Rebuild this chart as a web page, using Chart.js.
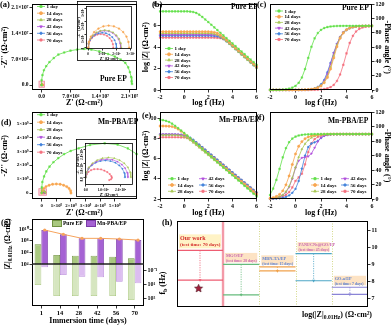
<!DOCTYPE html>
<html><head><meta charset="utf-8">
<script src="https://cdn.jsdelivr.net/npm/chart.js@4.4.1/dist/chart.umd.min.js"></script>
<style>
html,body{margin:0;padding:0;background:#fff}
body{width:392px;height:326px;position:relative;overflow:hidden;font-family:"Liberation Serif","Times New Roman",serif;font-weight:bold;color:#000}
canvas{position:absolute}
.t{position:absolute;white-space:nowrap;line-height:1;font-weight:bold}
sub{font-size:70%;vertical-align:-0.3em;line-height:0}
.sw{display:inline-block;width:8px;height:5px;border:0.8px solid;vertical-align:middle;margin-right:1px}
</style></head><body>
<script>
// ================= DATA =================
const logF = [-2,-1.75,-1.5,-1.25,-1,-0.75,-0.5,-0.25,0,0.25,0.5,0.75,1,1.25,1.5,1.75,2,2.25,2.5,2.75,3,3.25,3.5,3.75,4,4.25,4.5,4.75,5,5.25,5.5,5.75,6];
const dayNames = ['1 day','14 days','28 days','42 days','56 days','70 days'];

// (b) Pure EP log|Z|
const bPure1  = [7.35,7.35,7.35,7.35,7.35,7.35,7.35,7.35,7.35,7.35,7.33,7.29,7.2,7.04,6.83,6.59,6.35,6.1,5.85,5.6,5.35,5.1,4.85,4.6,4.35,4.1,3.85,3.6,3.35,3.1,2.85,2.6,2.35];
const bPure14 = [5.45,5.45,5.45,5.45,5.45,5.45,5.45,5.45,5.45,5.45,5.45,5.45,5.45,5.45,5.45,5.45,5.44,5.43,5.39,5.3,5.14,4.93,4.69,4.45,4.2,3.95,3.7,3.45,3.2,2.95,2.7,2.45,2.2];
const bPure28 = [5.3,5.3,5.3,5.3,5.3,5.3,5.3,5.3,5.3,5.3,5.3,5.3,5.3,5.3,5.3,5.3,5.29,5.28,5.24,5.15,4.99,4.78,4.54,4.3,4.05,3.8,3.55,3.3,3.05,2.8,2.55,2.3,2.05];
const bPure42 = [5.17,5.17,5.17,5.17,5.17,5.17,5.17,5.17,5.17,5.17,5.17,5.17,5.17,5.17,5.17,5.17,5.17,5.16,5.15,5.11,5.02,4.86,4.65,4.41,4.17,3.92,3.67,3.42,3.17,2.92,2.67,2.42,2.17];
const bPure56 = [5.07,5.07,5.07,5.07,5.07,5.07,5.07,5.07,5.07,5.07,5.07,5.07,5.07,5.07,5.07,5.07,5.07,5.06,5.05,5.01,4.92,4.76,4.55,4.31,4.07,3.82,3.57,3.32,3.07,2.82,2.57,2.32,2.07];
const bPure70 = [4.9,4.9,4.9,4.9,4.9,4.9,4.9,4.9,4.9,4.9,4.9,4.9,4.9,4.9,4.9,4.9,4.9,4.9,4.89,4.88,4.84,4.75,4.59,4.38,4.14,3.9,3.65,3.4,3.15,2.9,2.65,2.4,2.15];

// (c) Pure EP -phase
const cPure1  = [0.1,0.1,0.2,0.3,0.6,1.0,1.8,3.2,5.7,10.1,17.5,29.4,45,60.6,72.5,79.9,84.3,86.8,88.2,89.0,89.4,89.7,89.8,89.9,89.9,89.9,89.9,89.9,89.9,89.9,89.9,89.9,89.9];
const cPure14 = [0,0,0,0,0,0,0,0,0.1,0.1,0.2,0.3,0.6,1.0,1.8,3.2,5.7,10.1,17.5,29.4,45,60.6,72.5,79.9,84.3,86.8,88.2,89.0,89.4,89.7,89.8,89.9,89.9];
const cPure28 = [0,0,0,0,0,0,0,0,0.1,0.1,0.2,0.4,0.7,1.1,2.0,3.6,6.4,11.2,19.3,31.9,47.9,63.0,74.0,80.8,84.8,87.1,88.4,89.1,89.5,89.7,89.8,89.9,89.9];
const cPure42 = [0,0,0,0,0,0,0,0,0,0,0,0.1,0.3,0.7,1.5,3.2,6.5,12.5,22.5,36.5,51.5,64.5,74.5,81,84.8,87,88.3,89,89.4,89.7,89.8,89.9,89.9];
const cPure56 = [0,0,0,0,0,0,0,0,0,0,0,0.2,0.5,1.1,2.2,4.3,8.0,14.0,25,38,52,64.5,74,80.5,84,86.5,88,88.8,89.3,89.6,89.8,89.9,89.9];
const cPure70 = [0,0,0,0,0,0,0,0,0,0,0,0,0,0.1,0.2,0.4,0.7,1.3,2.3,4.0,7.2,12.6,21.7,35.3,51.3,66.0,76.0,82.0,85.6,87.6,88.7,89.3,89.6];

// (e) Mn-PBA/EP log|Z|
const eMn1  = [9.86,9.83,9.76,9.65,9.48,9.27,9.04,8.8,8.56,8.3,8.04,7.77,7.51,7.25,6.99,6.72,6.46,6.2,5.94,5.67,5.41,5.15,4.89,4.62,4.36,4.1,3.84,3.57,3.31,3.05,2.79,2.52,2.26];
const eMn14 = [9.25,9.25,9.24,9.23,9.19,9.1,8.94,8.73,8.49,8.25,8.0,7.75,7.5,7.25,7.0,6.75,6.5,6.25,6.0,5.75,5.5,5.25,5.0,4.75,4.5,4.25,4.0,3.75,3.5,3.25,3.0,2.75,2.5];
const eMn28 = [8.35,8.35,8.35,8.35,8.35,8.34,8.33,8.29,8.2,8.04,7.83,7.59,7.35,7.1,6.85,6.6,6.35,6.1,5.85,5.6,5.35,5.1,4.85,4.6,4.35,4.1,3.85,3.6,3.35,3.1,2.85,2.6,2.35];
const eMn42 = [8.43,8.43,8.43,8.43,8.43,8.42,8.41,8.37,8.28,8.12,7.91,7.67,7.43,7.18,6.93,6.68,6.43,6.18,5.93,5.68,5.43,5.18,4.93,4.68,4.43,4.18,3.93,3.68,3.43,3.18,2.93,2.68,2.43];
const eMn56 = [8.4,8.4,8.4,8.4,8.4,8.4,8.39,8.38,8.34,8.25,8.09,7.88,7.64,7.4,7.15,6.9,6.65,6.4,6.15,5.9,5.65,5.4,5.15,4.9,4.65,4.4,4.15,3.9,3.65,3.4,3.15,2.9,2.65];
const eMn70 = [8.13,8.13,8.13,8.13,8.13,8.13,8.13,8.12,8.11,8.07,7.98,7.82,7.61,7.37,7.13,6.88,6.63,6.38,6.13,5.88,5.63,5.38,5.13,4.88,4.63,4.38,4.13,3.88,3.63,3.38,3.13,2.88,2.63];

// (f) Mn-PBA/EP -phase
const fMn1  = [5.5,14.5,26.6,41.7,57.7,70.4,78.7,83.7,86.4,88.0,88.9,89.4,89.6,89.8,89.9,89.9,89.9,89.9,89.9,89.9,89.9,89.9,89.9,89.9,89.9,89.9,89.9,89.9,89.9,89.9,89.9,89.9,89.9];
const fMn14 = [1.1,1.9,3.6,6.4,11.3,19.6,32.0,47.9,62.5,73.0,79.5,83.5,86.0,87.6,88.5,89.1,89.5,89.7,89.8,89.9,89.9,89.9,89.9,89.9,89.9,89.9,89.9,89.9,89.9,89.9,89.9,89.9,89.9];
const fMn28 = [0.6,1.0,1.8,3.2,5.7,10.1,17.5,29.4,44,58,69,76.5,81.5,85,87.2,88.5,89.2,89.5,89.7,89.8,89.9,89.9,89.9,89.9,89.9,89.9,89.9,89.9,89.9,89.9,89.9,89.9,89.9];
const fMn42 = [0.5,0.9,1.6,2.9,5.2,9.3,16.5,28,43,53,57,58,59,63,71,79.5,85,87.5,88.7,89.3,89.6,89.8,89.9,89.9,89.9,89.9,89.9,89.9,89.9,89.9,89.9,89.9,89.9];
const fMn56 = [0.2,0.3,0.5,0.9,1.6,2.9,5.0,8.5,14.0,25,42,60,72,77,78.5,80.5,84.5,87.5,88.8,89.4,89.7,89.8,89.9,89.9,89.9,89.9,89.9,89.9,89.9,89.9,89.9,89.9,89.9];
const fMn70 = [0.3,0.6,1.1,2.0,3.5,5.8,9.5,16,25,30,35,48,65,77,83,86,87.8,88.8,89.3,89.6,89.8,89.9,89.9,89.9,89.9,89.9,89.9,89.9,89.9,89.9,89.9,89.9,89.9];

// (a) Pure EP Nyquist, 1 day (units 1e6 ohm cm2)
const aPure1x = [0,0,0.2,0.54,1.1,1.87,2.9,4.0,5.4,6.9,8.5,10.2,11.9,13.8,15.9,17.5,18.9,20.0,20.7,21.1,21.4,21.5,21.6];
const aPure1y = [0,1.3,2.7,4.0,5.1,6.2,7.3,8.25,8.8,9.3,9.6,9.8,9.6,9.1,8.4,7.7,6.9,6.0,4.8,3.5,2.2,1.0,0.3];
// (a) inset, 14-70 days (units 1e5 ohm cm2)
const aIns14x = [0,0.05,0.19,0.42,0.73,1.08,1.45,1.82,2.18,2.48,2.71,2.85,2.9];
const aIns14y = [0,0.44,0.85,1.2,1.47,1.64,1.7,1.64,1.47,1.2,0.85,0.44,0];
const aIns28x = [0,0.04,0.16,0.34,0.59,0.87,1.18,1.48,1.76,2.01,2.19,2.31,2.35];
const aIns28y = [0,0.35,0.68,0.95,1.17,1.3,1.35,1.3,1.17,0.95,0.68,0.35,0];
const aIns42x = [0,0.04,0.15,0.34,0.58,0.85,1.15,1.45,1.73,1.96,2.15,2.26,2.3];
const aIns42y = [0,0.34,0.65,0.92,1.13,1.26,1.3,1.26,1.13,0.92,0.65,0.34,0];
const aIns56x = [0,0.03,0.13,0.29,0.5,0.74,1.0,1.26,1.5,1.71,1.87,1.97,2.0];
const aIns56y = [0,0.3,0.58,0.81,1.0,1.11,1.15,1.11,1.0,0.81,0.58,0.3,0];
const aIns70x = [0,0.03,0.12,0.26,0.45,0.66,0.89,1.12,1.34,1.52,1.66,1.75,1.78];
const aIns70y = [0,0.27,0.53,0.74,0.91,1.01,1.05,1.01,0.91,0.74,0.53,0.27,0];

// (d) Mn-PBA/EP Nyquist, 1 & 14 days (units 1e9 ohm cm2)
const dMn1x = [0,0,0.04,0.16,0.31,0.53,0.8,1.13,1.53,1.98,2.53,3.31,4.31,5.2,5.9,6.5,7.0];
const dMn1y = [0,0.4,0.79,1.19,1.55,1.9,2.21,2.5,2.79,3.02,3.21,3.45,3.57,3.48,3.2,2.8,2.3];
const dMn14x = [0,0.03,0.13,0.29,0.5,0.74,1.0,1.26,1.5,1.71,1.87,1.97,2.0];
const dMn14y = [0,0.17,0.33,0.46,0.56,0.63,0.65,0.63,0.56,0.46,0.33,0.17,0];
// (d) inset, 28-70 days (units 1e8 ohm cm2)
const dIns28x = [0,0.04,0.17,0.38,0.65,0.96,1.3,1.64,1.95,2.22,2.43,2.56,2.6];
const dIns28y = [0,0.36,0.7,0.99,1.21,1.35,1.4,1.35,1.21,0.99,0.7,0.36,0];
const dIns42x = [0,0.04,0.16,0.35,0.61,0.9,1.22,1.53,1.82,2.08,2.27,2.39,2.43];
const dIns42y = [0,0.33,0.64,0.9,1.11,1.24,1.28,1.24,1.11,0.9,0.64,0.33,0];
const dIns56x = [0,0.04,0.15,0.33,0.57,0.84,1.13,1.42,1.7,1.93,2.11,2.22,2.26];
const dIns56y = [0,0.31,0.6,0.84,1.03,1.15,1.19,1.15,1.03,0.84,0.6,0.31,0];
const dIns70x = [0,0.05,0.15,0.3,0.48,0.68,0.88,1.07,1.24,1.38,1.47,1.5,1.45,1.35];
const dIns70y = [0,0.2,0.38,0.5,0.57,0.58,0.55,0.47,0.36,0.22,0.08,-0.05,-0.15,-0.2];

// (g) |Z|0.01Hz (log10) and breakpoint frequency fb (log10)
const gDays = ['1','14','28','42','56','70'];
const gZPure = [7.37,5.54,5.43,5.43,5.26,4.97];
const gZMn   = [9.83,9.09,8.4,8.4,8.29,8.11];
const gFbPure = [1.14,2.71,2.71,2.71,2.71,3.29];
const gFbMn   = [-1.38,-0.29,-0.05,0.05,0.67,0.9];
const Z_BASE = 4;       // |Z| axis baseline (10^4)
const FB_BASE = -1.86;  // fb value at the same baseline

// (h) comparison of log|Z|0.01Hz
const hWorks = ['Our work','MGO/EP','MBN-TA/EP','PANI/CNs@GO/EP','GO-a/EP'];
const hTimes = ['70 days','28 days','15 days','45 days','7 days'];
const hInit  = [9.82,9.0,8.86,9.63,7.67];
const hFinal = [8.09,7.23,8.62,8.05,7.25];
const hStar  = 7.6;

// tick labels
const tA = [0,7,14,21], tALab = ['0.0','7.0×10⁶','1.4×10⁷','2.1×10⁷'];
const tAi = [0,1,2,3], tAiLab = ['0','1×10⁵','2×10⁵','3×10⁵'];
const tD = [0,1,2,3,4,5], tDLab = ['0','1×10⁹','2×10⁹','3×10⁹','4×10⁹','5×10⁹'];
const tDi = [0,1,2], tDiLab = ['0.0','1.0×10⁸','2.0×10⁸'];
const tF = [-2,0,2,4,6];
const tZb = [0,2,4,6,8], tZe = [2,4,6,8,10];
const tPh = [0,20,40,60,80,100,120];
const tGZ = [4,6,8,10], tGZLab = ['10⁴','10⁶','10⁸','10¹⁰'];
const tGF = [-1,1,3], tGFLab = ['10⁻¹','10¹','10³'];
const tH = [7,8,9,10,11];

// ================= STYLE =================
const FONT = '"Liberation Serif","Times New Roman",serif';
const COL = ['#62e04a','#f8a650','#a7c653','#b04fdc','#3f80da','#f4707e'];
const PST = ['rect','circle','triangle','triangle','rectRot','rect'];
const PROT = [0,0,0,180,0,0];
const HCOL = ['#ee5d72','#66bb7c','#f0a24c','#4ea6c6','#8a84d6'];
const HBOX = ['#fff3c6','#fde3c4','#fde3c4','#fde3c4','#fde3c4'];
const HTXT = ['#d42a2a','#c865b0','#5a7fd0','#c865b0','#5a7fd0'];

Chart.defaults.font.family = FONT;
Chart.defaults.font.weight = 'bold';
Chart.defaults.color = '#000';
Chart.defaults.animation = false;
Chart.defaults.responsive = false;
Chart.defaults.maintainAspectRatio = false;
Chart.defaults.devicePixelRatio = 1;
Chart.defaults.events = [];
Chart.defaults.plugins.legend.display = false;
Chart.defaults.plugins.tooltip.enabled = false;

function cv(x, y, w, h) {
  const c = document.createElement('canvas');
  c.width = w; c.height = h;
  c.style.left = x + 'px'; c.style.top = y + 'px';
  c.style.width = w + 'px'; c.style.height = h + 'px';
  document.body.appendChild(c);
  return c;
}
function T(html, x, y, size, extra) {
  const d = document.createElement('div');
  d.className = 't'; d.innerHTML = html;
  d.style.left = x + 'px'; d.style.top = y + 'px'; d.style.fontSize = size + 'px';
  if (extra) d.style.cssText += extra;
  document.body.appendChild(d);
  return d;
}
function axis(o) {
  return {
    type: 'linear', position: o.pos, min: o.min, max: o.max, reverse: !!o.reverse, display: true,
    afterBuildTicks: s => { s.ticks = o.ticks.map(v => ({value: v})); },
    afterFit: s => {
      if (s.isHorizontal()) s.height = o.size; else s.width = o.size;
      s.paddingLeft = 0; s.paddingRight = 0; s.paddingTop = 0; s.paddingBottom = 0;
    },
    ticks: {
      autoSkip: false, minRotation: o.rot || 0, maxRotation: o.rot || 0, padding: o.tp ?? 1,
      font: {size: o.fs || 6, weight: 'bold'}, color: '#000',
      callback: (v) => { const k = o.ticks.indexOf(v); return o.labels ? (o.labels[k] ?? '') : String(v); }
    },
    grid: {display: true, drawOnChartArea: false, drawTicks: true, tickLength: o.tl ?? 2.5, color: '#000', lineWidth: 0.8},
    border: {display: false},
    title: o.title ? {display: true, text: o.title, font: {size: o.tfs || 8, weight: 'bold'}, color: '#000', padding: {top: 0, bottom: 0}} : {display: false}
  };
}
function series(xs, ys, k, extra) {
  return Object.assign({
    label: dayNames[k],
    data: xs.map((x, i) => ({x: x, y: ys[i]})),
    showLine: true, tension: 0,
    borderColor: COL[k], backgroundColor: COL[k],
    pointBackgroundColor: COL[k], pointBorderColor: COL[k],
    borderWidth: 0.8, pointRadius: 1.2, pointBorderWidth: 0.4,
    pointStyle: PST[k], rotation: PROT[k], clip: 1.5
  }, extra || {});
}

// ================= PLUGINS =================
const framePlugin = {
  id: 'frame',
  afterDatasetsDraw(chart, args, o) {
    const a = chart.chartArea, ctx = chart.ctx;
    ctx.save(); ctx.strokeStyle = '#000'; ctx.lineWidth = o.lw || 1;
    ctx.strokeRect(Math.round(a.left) + 0.5, Math.round(a.top) + 0.5, Math.round(a.right - a.left) - 1, Math.round(a.bottom - a.top) - 1);
    if (o.outer) ctx.strokeRect(0.5, 0.5, chart.width - 1, chart.height - 1);
    ctx.restore();
  }
};
const legendPlugin = {
  id: 'lgd',
  afterDraw(chart, args, o) {
    if (!o || !o.labels) return;
    const ctx = chart.ctx, ox = chart.canvas.offsetLeft, oy = chart.canvas.offsetTop;
    ctx.save();
    ctx.font = 'bold ' + o.size + 'px ' + FONT; ctx.textBaseline = 'middle'; ctx.textAlign = 'left';
    o.labels.forEach((lab, i) => {
      const ds = chart.data.datasets[i];
      const col = Math.floor(i / o.perCol), row = i % o.perCol;
      const x = o.x + col * (o.colW || 0) - ox, y = o.y + row * o.dy - oy;
      ctx.strokeStyle = ds.borderColor; ctx.fillStyle = ds.borderColor; ctx.lineWidth = 0.8;
      ctx.beginPath(); ctx.moveTo(x, y); ctx.lineTo(x + o.sw, y); ctx.stroke();
      Chart.helpers.drawPoint(ctx, {pointStyle: ds.pointStyle, rotation: ds.rotation || 0, radius: 1.5, borderWidth: 0.5}, x + o.sw / 2, y);
      ctx.fillStyle = '#000'; ctx.fillText(lab, x + o.sw + 1.5, y + 0.3);
    });
    ctx.restore();
  }
};
const zoomBoxPlugin = {
  id: 'zbox',
  beforeDatasetsDraw(chart, args, o) {
    if (!o || o.x0 === undefined) return;
    const xs = chart.scales.x, ys = chart.scales.y, ctx = chart.ctx;
    const x0 = xs.getPixelForValue(o.x0), x1 = xs.getPixelForValue(o.x1);
    const y0 = ys.getPixelForValue(o.y0), y1 = ys.getPixelForValue(o.y1);
    ctx.save(); ctx.fillStyle = 'rgba(244,150,170,0.45)'; ctx.strokeStyle = '#f08ba0'; ctx.lineWidth = 0.8;
    ctx.fillRect(x0, y1, x1 - x0, y0 - y1); ctx.strokeRect(x0, y1, x1 - x0, y0 - y1);
    ctx.restore();
  }
};
Chart.register(framePlugin, legendPlugin, zoomBoxPlugin);

function starCanvas(r, fill, stroke) {
  const c = document.createElement('canvas'); const s = Math.ceil(r * 2 + 2); c.width = c.height = s;
  const g = c.getContext('2d'); g.beginPath();
  for (let k = 0; k < 10; k++) {
    const ang = -Math.PI / 2 + k * Math.PI / 5, rr = (k % 2) ? r * 0.45 : r;
    g.lineTo(s / 2 + rr * Math.cos(ang), s / 2 + rr * Math.sin(ang));
  }
  g.closePath(); g.fillStyle = fill; g.fill(); g.strokeStyle = stroke; g.lineWidth = 0.6; g.stroke();
  return c;
}

// ================= (a) =================
const aSmall = [[aIns14x, aIns14y], [aIns28x, aIns28y], [aIns42x, aIns42y], [aIns56x, aIns56y], [aIns70x, aIns70y]];
new Chart(cv(0, 0, 141, 108), {
  type: 'scatter',
  data: {datasets: [series(aPure1x, aPure1y, 0)].concat(aSmall.map((p, k) => series(p[0].map(v => v / 10), p[1].map(v => v / 10), k + 1, {pointRadius: 0.8})))},
  options: {
    layout: {padding: {top: 3, right: 2, left: 0, bottom: 0}},
    scales: {
      x: axis({pos: 'bottom', min: -2.3, max: 22.7, ticks: tA, labels: tALab, size: 18, fs: 5.5, title: "Z' (Ω·cm²)"}),
      y: axis({pos: 'left', min: -1.33, max: 21.8, ticks: tA, labels: tALab, size: 32, fs: 5.5, title: "-Z'' (Ω·cm²)"})
    },
    plugins: {
      zbox: {x0: -0.63, x1: 0.7, y0: -0.6, y1: 1.06},
      lgd: {labels: dayNames, x: 37, y: 6.5, dy: 6.7, perCol: 6, sw: 8, size: 5}
    }
  }
});
// inset (a)
new Chart(cv(77, 1, 60, 60), {
  type: 'scatter',
  data: {datasets: [series([], [], 0)].concat(aSmall.map((p, k) => series(p[0], p[1], k + 1, {pointRadius: 0.9, borderWidth: 0.6})))},
  options: {
    layout: {padding: {top: 5, right: 5, left: 0, bottom: 0}},
    scales: {
      x: axis({pos: 'bottom', min: -0.15, max: 3.1, ticks: tAi, labels: tAiLab, size: 12, fs: 3.5, tfs: 4, tl: 1.5, title: "Z' (Ω·cm²)"}),
      y: axis({pos: 'left', min: -0.1, max: 3.2, ticks: tAi, labels: tAiLab, size: 9, fs: 3.5, tfs: 4, tl: 1.5, rot: 90, title: "-Z'' (Ω·cm²)"})
    },
    plugins: {frame: {lw: 0.8, outer: true}}
  }
});

// ================= (b) =================
new Chart(cv(141, 0, 120, 108), {
  type: 'scatter',
  data: {datasets: [bPure1, bPure14, bPure28, bPure42, bPure56, bPure70].map((a, k) => series(logF, a, k))},
  options: {
    layout: {padding: {top: 3, right: 3, left: 0, bottom: 0}},
    scales: {
      x: axis({pos: 'bottom', min: -2, max: 6, ticks: tF, size: 18, title: 'log f (Hz)'}),
      y: axis({pos: 'left', min: 0, max: 8, ticks: tZb, size: 19, title: 'log |Z| (Ω·cm²)'})
    },
    plugins: {lgd: {labels: dayNames, x: 165, y: 48.5, dy: 5.8, perCol: 6, sw: 8, size: 5}}
  }
});
// ================= (c) =================
new Chart(cv(261, 0, 131, 108), {
  type: 'scatter',
  data: {datasets: [cPure1, cPure14, cPure28, cPure42, cPure56, cPure70].map((a, k) => series(logF, a, k))},
  options: {
    layout: {padding: {top: 3, right: 0, left: 9, bottom: 0}},
    scales: {
      x: axis({pos: 'bottom', min: -2, max: 6, ticks: tF, size: 18, title: 'log f (Hz)'}),
      y: axis({pos: 'right', min: 0, max: 120, ticks: tPh, size: 20, title: '-Phase angle (°)'})
    },
    plugins: {lgd: {labels: dayNames, x: 275, y: 11, dy: 5.7, perCol: 6, sw: 8, size: 5}}
  }
});

// ================= (d) =================
const dSmall = [[dIns28x, dIns28y], [dIns42x, dIns42y], [dIns56x, dIns56y], [dIns70x, dIns70y]];
new Chart(cv(0, 108, 141, 110), {
  type: 'scatter',
  data: {datasets: [series(dMn1x, dMn1y, 0), series(dMn14x, dMn14y, 1)].concat(dSmall.map((p, k) => series(p[0].map(v => v / 10), p[1].map(v => v / 10), k + 2, {pointRadius: 0.8})))},
  options: {
    layout: {padding: {top: 4, right: 2, left: 0, bottom: 0}},
    scales: {
      x: axis({pos: 'bottom', min: -0.67, max: 6.5, ticks: tD, labels: tDLab, size: 19, fs: 4.8, title: "Z' (Ω·cm²)"}),
      y: axis({pos: 'left', min: -0.43, max: 5.79, ticks: tD, labels: tDLab, size: 32, fs: 5, title: "-Z'' (Ω·cm²)"})
    },
    plugins: {
      zbox: {x0: -0.2, x1: 0.33, y0: -0.16, y1: 0.31},
      lgd: {labels: dayNames, x: 37, y: 114.7, dy: 7.5, perCol: 6, sw: 8, size: 5}
    }
  }
});
// inset (d)
new Chart(cv(76, 139, 61, 58), {
  type: 'scatter',
  data: {datasets: [series([], [], 0), series([], [], 1)].concat(dSmall.map((p, k) => series(p[0], p[1], k + 2, {pointRadius: 0.9, borderWidth: 0.6})))},
  options: {
    layout: {padding: {top: 4, right: 3, left: 0, bottom: 0}},
    scales: {
      x: axis({pos: 'bottom', min: -0.05, max: 2.7, ticks: tDi, labels: tDiLab, size: 12, fs: 3.5, tfs: 4, tl: 1.5, title: "Z' (Ω·cm²)"}),
      y: axis({pos: 'left', min: -0.55, max: 2.4, ticks: tDi, labels: tDiLab, size: 9, fs: 3.5, tfs: 4, tl: 1.5, rot: 90, title: "-Z'' (Ω·cm²)"})
    },
    plugins: {frame: {lw: 0.8, outer: true}}
  }
});

// ================= (e) =================
new Chart(cv(141, 108, 120, 110), {
  type: 'scatter',
  data: {datasets: [eMn1, eMn14, eMn28, eMn42, eMn56, eMn70].map((a, k) => series(logF, a, k))},
  options: {
    layout: {padding: {top: 4, right: 3, left: 0, bottom: 0}},
    scales: {
      x: axis({pos: 'bottom', min: -2, max: 6, ticks: tF, size: 19, title: 'log f (Hz)'}),
      y: axis({pos: 'left', min: 2, max: 10.6, ticks: tZe, size: 19, title: 'log |Z| (Ω·cm²)'})
    },
    plugins: {lgd: {labels: dayNames, x: 168, y: 178.7, dy: 6.3, perCol: 3, colW: 31, sw: 8, size: 5}}
  }
});
// ================= (f) =================
new Chart(cv(261, 108, 131, 110), {
  type: 'scatter',
  data: {datasets: [fMn1, fMn14, fMn28, fMn42, fMn56, fMn70].map((a, k) => series(logF, a, k))},
  options: {
    layout: {padding: {top: 4, right: 0, left: 9, bottom: 0}},
    scales: {
      x: axis({pos: 'bottom', min: -2, max: 6, ticks: tF, size: 19, title: 'log f (Hz)'}),
      y: axis({pos: 'right', min: 0, max: 120, ticks: tPh, size: 20, title: '-Phase angle (°)'})
    },
    plugins: {lgd: {labels: dayNames, x: 311, y: 178.7, dy: 6.3, perCol: 3, colW: 30, sw: 8, size: 5}}
  }
});

// ================= (g) =================
const gDeco = {
  id: 'gdeco',
  afterDatasetsDraw(chart) {
    const ctx = chart.ctx, yZ = chart.scales.yZ, a = chart.chartArea;
    const meta = chart.getDatasetMeta(1);
    ctx.save();
    const yb = yZ.getPixelForValue(Z_BASE);
    ctx.strokeStyle = '#222'; ctx.lineWidth = 1.4;
    ctx.beginPath(); ctx.moveTo(a.left, yb); ctx.lineTo(a.right, yb); ctx.stroke();
    ctx.strokeStyle = '#f6a35c'; ctx.fillStyle = '#f6a35c'; ctx.lineWidth = 1;
    ctx.beginPath();
    gZMn.forEach((v, i) => { const x = meta.data[i].x, y = yZ.getPixelForValue(v); if (i) ctx.lineTo(x, y); else ctx.moveTo(x, y); });
    ctx.stroke();
    gZMn.forEach((v, i) => { ctx.beginPath(); ctx.arc(meta.data[i].x, yZ.getPixelForValue(v), 1.6, 0, Math.PI * 2); ctx.fill(); });
    ctx.restore();
  }
};
new Chart(cv(0, 216, 172, 110), {
  type: 'bar',
  data: {
    labels: gDays,
    datasets: [
      {label: 'Pure EP', data: gZPure.map(v => [Z_BASE, v]), yAxisID: 'yZ', stack: 'p', backgroundColor: '#a9c87f', borderColor: '#6f9140', borderWidth: 0.8, borderSkipped: false, barPercentage: 1, categoryPercentage: 0.72},
      {label: 'Mn-PBA/EP', data: gZMn.map(v => [Z_BASE, v]), yAxisID: 'yZ', stack: 'm', backgroundColor: '#a562d3', borderColor: '#7a3aa6', borderWidth: 0.8, borderSkipped: false, barPercentage: 1, categoryPercentage: 0.72},
      {label: 'Pure EP fb', data: gFbPure.map(v => [FB_BASE, v]), yAxisID: 'yF', stack: 'p', backgroundColor: '#d6e6c0', borderColor: '#a9c87f', borderWidth: 0.8, borderSkipped: false, barPercentage: 1, categoryPercentage: 0.72},
      {label: 'Mn-PBA/EP fb', data: gFbMn.map(v => [FB_BASE, v]), yAxisID: 'yF', stack: 'm', backgroundColor: '#dcbdf0', borderColor: '#bb8fdc', borderWidth: 0.8, borderSkipped: false, barPercentage: 1, categoryPercentage: 0.72}
    ]
  },
  options: {
    layout: {padding: {top: 3, right: 0, left: 0, bottom: 0}},
    scales: {
      x: {
        type: 'category', offset: true,
        afterFit: s => { s.height = 20; s.paddingLeft = 0; s.paddingRight = 0; },
        ticks: {font: {size: 6.5, weight: 'bold'}, color: '#000', padding: 1, maxRotation: 0, autoSkip: false},
        grid: {display: true, offset: false, drawOnChartArea: false, tickLength: 2.5, color: '#000', lineWidth: 0.8},
        border: {display: false},
        title: {display: true, text: 'Immersion time (days)', font: {size: 8, weight: 'bold'}, color: '#000', padding: {top: 0, bottom: 0}}
      },
      yZ: axis({pos: 'left', min: -3.2, max: 11.72, ticks: tGZ, labels: tGZLab, size: 32}),
      yF: axis({pos: 'right', min: -8.29, max: 4.14, reverse: true, ticks: tGF, labels: tGFLab, size: 28})
    }
  },
  plugins: [gDeco]
});

// ================= (h) =================
const H_XMIN = -0.27;
const hDatasets = [];
hWorks.forEach((w, i) => {
  const x0 = i === 0 ? H_XMIN : i, x1 = i + 1, mid = (x0 + x1) / 2;
  hDatasets.push({data: [{x: x0, y: hInit[i]}, {x: x1, y: hInit[i]}], showLine: true, borderColor: HCOL[i], borderWidth: 1.2, pointRadius: 0});
  hDatasets.push({data: [{x: x0, y: hFinal[i]}, {x: x1, y: hFinal[i]}], showLine: true, borderColor: HCOL[i], borderWidth: 1.2, pointRadius: 0});
  hDatasets.push({data: [{x: mid, y: hInit[i]}, {x: mid, y: hFinal[i]}], showLine: true, borderColor: HCOL[i], borderWidth: 0.8, borderDash: [1.2, 1.2],
    pointRadius: [0, 1.8], pointStyle: 'triangle', rotation: 180, pointBackgroundColor: HCOL[i], pointBorderColor: HCOL[i], pointBorderWidth: 0});
});
hDatasets.push({data: [{x: (H_XMIN + 1) / 2 - 0.04, y: hStar}], pointStyle: starCanvas(4.2, '#a3203c', '#4a0a18'), pointRadius: 4});
const hDeco = {
  id: 'hdeco',
  beforeDatasetsDraw(chart) {
    const xs = chart.scales.x, a = chart.chartArea, ctx = chart.ctx;
    ctx.save();
    ctx.strokeStyle = '#c9cf6c'; ctx.lineWidth = 0.8; ctx.setLineDash([1, 1.5]);
    for (let i = 2; i < hWorks.length; i++) {
      const px = Math.round(xs.getPixelForValue(i)) + 0.5;
      ctx.beginPath(); ctx.moveTo(px, a.top); ctx.lineTo(px, a.bottom); ctx.stroke();
    }
    ctx.setLineDash([]); ctx.strokeStyle = '#f39aa8'; ctx.lineWidth = 2.4;
    const p1 = xs.getPixelForValue(1);
    ctx.beginPath(); ctx.moveTo(p1, a.top); ctx.lineTo(p1, a.bottom); ctx.stroke();
    ctx.restore();
  },
  afterDatasetsDraw(chart) {
    const xs = chart.scales.x, ys = chart.scales.y, ctx = chart.ctx;
    ctx.save(); ctx.textBaseline = 'top'; ctx.textAlign = 'left';
    hWorks.forEach((w, i) => {
      const xl = xs.getPixelForValue(i === 0 ? H_XMIN : i) + 2, xr = xs.getPixelForValue(i + 1) - 2;
      const yb = ys.getPixelForValue(hInit[i]) - 2;
      const big = i === 0, f1 = big ? 6 : 4.3, f2 = big ? 5 : 3.8, h = big ? 14 : 9.5;
      ctx.fillStyle = HBOX[i]; ctx.fillRect(xl, yb - h, xr - xl, h);
      ctx.fillStyle = HTXT[i];
      ctx.font = 'bold ' + f1 + 'px ' + FONT; ctx.fillText(w, xl + 1, yb - h + 1);
      ctx.font = 'bold ' + f2 + 'px ' + FONT; ctx.fillText('(test time: ' + hTimes[i] + ')', xl + 1, yb - h + 2 + f1);
    });
    ctx.restore();
  }
};
new Chart(cv(172, 216, 220, 110), {
  type: 'scatter',
  data: {datasets: hDatasets},
  options: {
    layout: {padding: {top: 3, right: 0, left: 1, bottom: 19}},
    scales: {
      x: {type: 'linear', display: false, min: H_XMIN, max: hWorks.length},
      y: axis({pos: 'right', min: 6.52, max: 11.53, ticks: tH, size: 24})
    }
  },
  plugins: [hDeco]
});

// ================= TEXT =================
[['(a)', 0, 0], ['(b)', 152, 0], ['(c)', 257, 0], ['(d)', 1, 118], ['(e)', 142, 111], ['(f)', 256, 113], ['(g)', 1, 218], ['(h)', 162, 218]]
  .forEach(p => T(p[0], p[1], p[2], 8.5));
T('Pure EP', 100, 75, 7.5);
T('Pure EP', 231, 3, 7.5);
T('Pure EP', 342, 4, 7.5);
T('Mn-PBA/EP', 98, 118, 7.5);
T('Mn-PBA/EP', 219, 116, 7.5);
T('Mn-PBA/EP', 328, 117, 7.5);
T('|Z|<sub>0.01Hz</sub> (Ω·cm²)', 8, 244, 7.5, 'transform:translate(-50%,-50%) rotate(-90deg)');
T('f<sub>b</sub> (Hz)', 163, 283, 8, 'transform:translate(-50%,-50%) rotate(-90deg)');
T('log(|Z|<sub>0.01Hz</sub>) (Ω·cm²)', 372, 311, 8, 'transform:translateX(-100%)');
T('<span class="sw" style="background:#a9c87f;border-color:#6f9140"></span>Pure EP', 52, 219.5, 5.5);
T('<span class="sw" style="background:#a562d3;border-color:#7a3aa6"></span>Mn-PBA/EP', 86, 219.5, 5.5);
</script>
</body></html>
